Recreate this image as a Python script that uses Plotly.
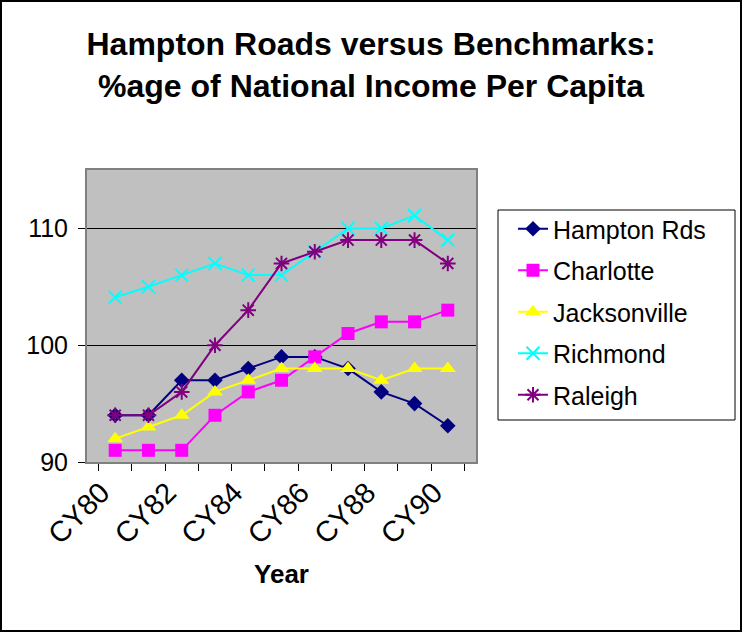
import plotly.graph_objects as go

years = ["CY80", "CY81", "CY82", "CY83", "CY84", "CY85", "CY86", "CY87", "CY88", "CY89", "CY90"]
tick_labels = ["CY80", "", "CY82", "", "CY84", "", "CY86", "", "CY88", "", "CY90"]
hampton = [94, 94, 97, 97, 98, 99, 99, 98, 96, 95, 93.1]
charlotte = [91, 91, 91, 94, 96, 97, 99, 101, 102, 102, 103]
jacksonville = [92, 93, 94, 96, 97, 98, 98, 98, 97, 98, 98]
richmond = [104.1, 105, 106, 107, 106, 106, 108, 110, 110, 111.1, 109]
raleigh = [94, 94, 96, 100, 103, 107, 108, 109, 109, 109, 107]

W, H = 742, 632
L, R, T, B = 87, 476, 170, 462
PW, PH = R - L, B - T

def px_x(x):
    return (x - L) / PW

def px_y(y):
    return 1 - (y - T) / PH

series = [
    ("Hampton Rds", hampton, "#000080", dict(symbol="diamond", size=12, color="#000080")),
    ("Charlotte", charlotte, "#FF00FF", dict(symbol="square", size=13, color="#FF00FF")),
    ("Jacksonville", jacksonville, "#FFFF00", dict(symbol="triangle-up", size=14, color="#FFFF00")),
    ("Richmond", richmond, "#00FFFF", dict(symbol="x-thin", size=13, color="#00FFFF", line=dict(color="#00FFFF", width=2))),
    ("Raleigh", raleigh, "#800080", dict(symbol="asterisk", size=13, color="#800080", line=dict(color="#800080", width=2))),
]

fig = go.Figure()
for i, (name, vals, col, mk) in enumerate(series):
    fig.add_trace(go.Scatter(
        x=years, y=vals, name=name, mode="lines+markers",
        line=dict(color=col, width=2), marker=mk, legendgroup="g%d" % i,
    ))

fig.update_layout(
    width=W, height=H,
    margin=dict(l=L, r=W - R, t=T, b=H - B),
    paper_bgcolor="white", plot_bgcolor="#C0C0C0",
    font=dict(family="Liberation Sans, Arial", size=24, color="black"),
    title=dict(
        text="Hampton Roads versus Benchmarks:<br>%age of National Income Per Capita",
        xref="container", yref="container", x=0.5, xanchor="center",
        y=1 - 55 / H, yanchor="middle",
        font=dict(family="Liberation Sans, Arial", size=32, color="black", weight="bold"),
    ),
    showlegend=True,
    legend=dict(
        x=px_x(513), xanchor="left",
        y=px_y(206), yanchor="top",
        borderwidth=0, bgcolor="rgba(0,0,0,0)",
        font=dict(size=25), tracegroupgap=6, traceorder="grouped",
    ),
)

fig.update_xaxes(
    type="category", tickmode="array", tickvals=years, ticktext=tick_labels,
    tickangle=-45, tickson="boundaries", ticks="outside", ticklen=7, tickcolor="black",
    showline=True, linecolor="#808080", linewidth=2, mirror=True, showgrid=False,
    title=dict(text="Year", font=dict(size=26, weight="bold"), standoff=16),
    tickfont=dict(size=29), ticklabelshift=-14,
)
fig.update_yaxes(
    range=[90, 115], tickvals=[90, 100, 110], ticks="outside", ticklen=7, tickcolor="black",
    showline=True, linecolor="#808080", linewidth=2, mirror=True,
    showgrid=True, gridcolor="black", gridwidth=1, zeroline=False,
    tickfont=dict(size=25), ticklabelstandoff=5,
)

# legend box
fig.add_shape(type="rect", xref="paper", yref="paper",
              x0=px_x(498), x1=px_x(735), y0=px_y(420), y1=px_y(210),
              line=dict(color="black", width=1), fillcolor="white", layer="below")

# outer chart border
fig.add_shape(type="rect", xref="paper", yref="paper",
              x0=px_x(1), x1=px_x(W - 1), y0=px_y(H - 1), y1=px_y(1),
              line=dict(color="black", width=2), fillcolor="rgba(0,0,0,0)", layer="below")

fig.write_html("out.html")
